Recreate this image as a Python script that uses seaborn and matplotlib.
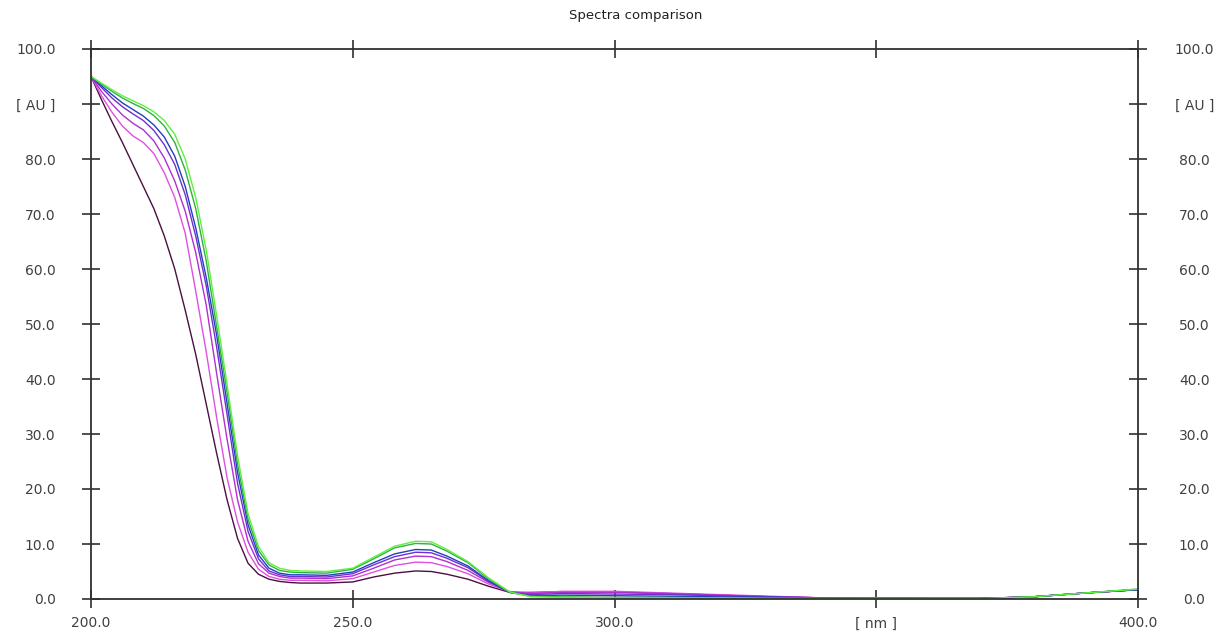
import numpy as np
import pandas as pd
import matplotlib
matplotlib.use("Agg")
import matplotlib.pyplot as plt
import matplotlib.transforms as mtransforms
import seaborn as sns

wavelength = [200, 202, 204, 206, 208, 210, 212, 214, 216, 218, 220, 222, 224, 226, 228,
              230, 232, 234, 236, 238, 240, 245, 250, 254, 258, 262, 265, 268, 272, 276,
              280, 284, 290, 300, 310, 320, 330, 340, 350, 360, 370, 380, 390, 400]

s_lightgreen = [95, 93.8, 92.6, 91.5, 90.6, 89.7, 88.6, 87, 84.5, 80, 73, 63.5, 51.5, 39, 26,
                15.5, 9.5, 6.6, 5.6, 5.2, 5.1, 5.0, 5.6, 7.6, 9.6, 10.5, 10.4, 9.0, 6.8, 3.8,
                1.3, 0.4, 0.3, 0.2, 0.2, 0.15, 0.1, 0.1, 0.1, 0.05, 0.05, 0.4, 1.1, 1.8]
s_green = [95, 93.6, 92.3, 91.1, 90.1, 89.2, 87.9, 86, 83, 78, 71, 61.5, 49.5, 37.5, 24.5,
           14.5, 8.8, 6.2, 5.2, 4.9, 4.8, 4.7, 5.4, 7.3, 9.3, 10.1, 10.0, 8.7, 6.6, 3.6,
           1.2, 0.5, 0.4, 0.3, 0.3, 0.2, 0.15, 0.1, 0.1, 0.1, 0.05, 0.4, 1.1, 1.8]
s_blue = [95, 93.3, 91.7, 90.2, 89, 87.8, 86.2, 84, 80.5, 75, 67.5, 58.5, 48, 35.5, 23,
          13.5, 8.0, 5.6, 4.7, 4.4, 4.4, 4.3, 4.9, 6.6, 8.2, 9.0, 8.9, 7.8, 6.0, 3.3,
          1.2, 0.6, 0.7, 0.6, 0.5, 0.4, 0.3, 0.2, 0.1, 0.1, 0.1, 0.4, 1.1, 1.7]
s_violet = [95, 93, 91.1, 89.5, 88.2, 87, 85.2, 82.6, 79, 73.5, 66, 57, 45.8, 33.5, 21,
            12.3, 7.3, 5.1, 4.4, 4.1, 4.1, 4.0, 4.6, 6.2, 7.7, 8.5, 8.4, 7.4, 5.7, 3.2,
            1.2, 0.8, 1.0, 0.9, 0.8, 0.6, 0.4, 0.2, 0.15, 0.1, 0.1, 0.4, 1.1, 1.7]
s_purple = [95, 92.3, 90, 88, 86.5, 85.3, 83.3, 80.2, 76, 70.5, 63, 53.5, 41, 29, 18,
            10.5, 6.4, 4.7, 4.1, 3.8, 3.8, 3.7, 4.2, 5.6, 7.1, 7.8, 7.7, 6.8, 5.2, 3.0,
            1.3, 1.0, 1.2, 1.2, 1.0, 0.7, 0.4, 0.2, 0.15, 0.1, 0.1, 0.4, 1.1, 1.7]
s_magenta = [95, 91.5, 88.5, 86, 84.2, 83, 81, 77.5, 73, 66.5, 56, 45, 33, 22, 14,
             8.5, 5.4, 4.1, 3.6, 3.4, 3.4, 3.3, 3.7, 4.9, 6.1, 6.7, 6.6, 5.9, 4.6, 2.7,
             1.3, 1.1, 1.4, 1.4, 1.1, 0.8, 0.5, 0.2, 0.15, 0.1, 0.1, 0.4, 1.1, 1.7]
s_maroon = [95, 90.8, 86.8, 83, 79, 75, 71, 66, 60, 52.5, 44.5, 35.5, 26.5, 18, 11,
            6.5, 4.5, 3.6, 3.2, 3.0, 2.9, 2.9, 3.1, 4.0, 4.7, 5.1, 5.0, 4.5, 3.6, 2.3,
            1.2, 1.2, 1.3, 1.3, 1.0, 0.7, 0.4, 0.2, 0.15, 0.1, 0.1, 0.4, 1.1, 1.7]

series_names = ["s1", "s2", "s3", "s4", "s5", "s6", "s7"]
series_values = [s_maroon, s_magenta, s_purple, s_violet, s_blue, s_green, s_lightgreen]
colors = ["#4a1040", "#e050e0", "#b030d0", "#7030d0", "#2040c0", "#30b040", "#60f040"]

x_ticks = [200, 250, 300, 350, 400]
x_labels = ["200.0", "250.0", "300.0", "[ nm ]", "400.0"]
y_ticks = [0, 10, 20, 30, 40, 50, 60, 70, 80, 90, 100]
y_labels = ["0.0", "10.0", "20.0", "30.0", "40.0", "50.0", "60.0", "70.0", "80.0", "[ AU ]", "100.0"]

rows = []
for name, vals in zip(series_names, series_values):
    for w, v in zip(wavelength, vals):
        rows.append({"nm": w, "AU": v, "series": name})
df = pd.DataFrame(rows)

sns.set_style("white")
plt.rcParams["font.family"] = ["DejaVu Sans"]

fig = plt.figure(figsize=(12.26, 6.37), dpi=100)
ax = fig.add_axes([91 / 1226, 1 - 599 / 637, (1138 - 91) / 1226, (599 - 49) / 637])

sns.lineplot(data=df, x="nm", y="AU", hue="series", palette=colors,
             hue_order=series_names, linewidth=1.0, legend=False, ax=ax)

ax.set_xlim(200, 400)
ax.set_ylim(0, 100)
ax.set_xlabel("")
ax.set_ylabel("")
ax.set_xticks(x_ticks)
ax.set_xticklabels(x_labels)
ax.set_yticks(y_ticks)
ax.set_yticklabels(y_labels)

txt_color = "#404040"
ax.tick_params(axis="both", which="both", direction="inout", length=13, width=1.2,
               color="#303030", labelcolor=txt_color, labelsize=10,
               top=True, right=True, left=True, bottom=True,
               labelleft=True, labelright=True, labeltop=False, labelbottom=True)
ax.tick_params(axis="y", which="both", pad=19)
ax.tick_params(axis="x", pad=6)
for sp in ax.spines.values():
    sp.set_visible(True)
    sp.set_color("#303030")
    sp.set_linewidth(1.3)

# right-side labels are centred in the reference
offset = mtransforms.ScaledTranslation(15 / 72, 0, fig.dpi_scale_trans)
for t in ax.yaxis.get_major_ticks():
    t.label2.set_horizontalalignment("center")
    t.label2.set_transform(t.label2.get_transform() + offset)

fig.text(636 / 1226, 1 - 16 / 637, "Spectra comparison", ha="center", va="center",
         fontsize=9.5, color="#202020")

fig.savefig("out.png", dpi=100, facecolor="white")
